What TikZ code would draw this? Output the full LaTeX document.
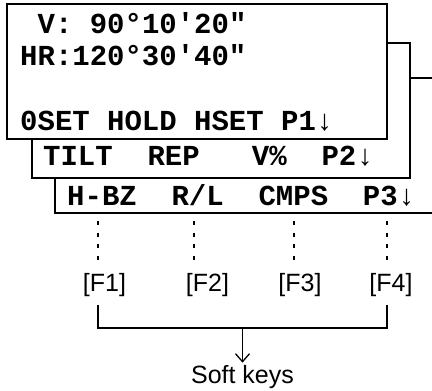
\documentclass[tikz,border=0pt]{standalone}
\usepackage{fontspec}
\setmainfont{Liberation Sans}
\setmonofont{Liberation Mono}
\newfontfamily\arrowfont{Liberation Serif}
\usetikzlibrary{arrows.meta, positioning}
\newcommand{\dn}{\makebox[0.6em]{\arrowfont\mdseries ↓}}

\begin{document}
\begin{tikzpicture}[x=1pt, y=-1pt,
    panel/.style={draw, line width=2pt, fill=white},
    lcd/.style={anchor=base west, inner sep=0pt,
                font=\fontsize{29}{29}\selectfont\ttfamily\bfseries},
    fkey/.style={inner sep=2pt, font=\fontsize{25}{25}\selectfont}]
  \useasboundingbox (0,0) rectangle (432,391);

  % Screens, back page first
  \draw[panel] (55,78) rectangle (450,213);
  \draw[panel] (32,43) rectangle (410,178);
  \draw[panel] (7,4) rectangle (387,139);

  % Display lines
  \node[lcd] (vline) at (20,33) {~V:~90°10\textquotesingle20\textquotedbl};
  \node[lcd] (hline) at (20,65) {HR:120°30\textquotesingle40\textquotedbl};
  \node[lcd] (pone) at (20,130) {0SET~HOLD~HSET~P1\dn};
  \node[lcd] (ptwo) at (43,165) {TILT~~REP~~~V\%~~P2\dn};
  \node[lcd] (pthree) at (67,205) {H-BZ~~R/L~~CMPS~~P3\dn};

  % Function keys
  \foreach \x/\fx/\n in {98/104.5/1, 194/207.5/2, 294/300/3, 387/391/4} {
    \coordinate (d\n) at (\x,221);
    \node[fkey] (f\n) at (\fx,285) {[F\n]};
    \draw[line width=1.3pt, dash pattern=on 4pt off 7.5pt] (d\n) -- (\x,262);
  }

  % Bracket
  \coordinate (b1) at (98,305);
  \coordinate (b4) at (387,305);
  \coordinate (mid) at (242.5,328);
  \node[fkey, anchor=base] (soft) at (242.5,383) {Soft keys};
  \draw[line width=1.3pt] (b1) -- (98,328) -- (387,328) -- (b4);
  \draw[line width=1.3pt, -{Straight Barb[length=8pt, width=14pt]}] (mid) -- (soft.north);
\end{tikzpicture}
\end{document}
